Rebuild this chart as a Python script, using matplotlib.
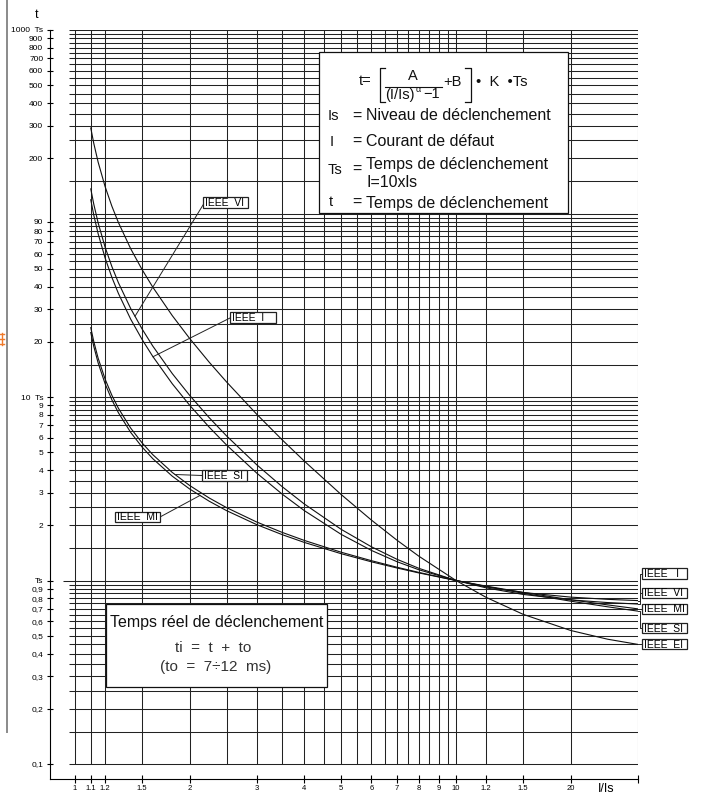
import numpy as np
import matplotlib
matplotlib.use('Agg')
import matplotlib.pyplot as plt
from matplotlib.patches import Rectangle
from matplotlib.ticker import NullLocator

plt.rcParams['font.family'] = ['Liberation Sans', 'DejaVu Sans']

# ---------------- data ----------------
multiples = [1.1, 1.12, 1.15, 1.2, 1.25, 1.3, 1.4, 1.5, 1.6, 1.8, 2, 2.25, 2.5, 3, 3.5, 4,
             5, 6, 7, 8, 10, 12, 15, 20, 25, 30]
t_ei = [292.5, 241.5, 190.6, 139.8, 109.4, 89.29, 64.28, 49.46, 39.7, 27.77, 20.83, 15.48, 12.07,
        8.049, 5.833, 4.47, 2.936, 2.133, 1.658, 1.354, 1, 0.8093, 0.6542, 0.5341, 0.4787, 0.4486]
t_vi = [136.2, 112.6, 88.95, 65.39, 51.3, 41.95, 30.36, 23.48, 18.95, 13.42, 10.2, 7.717, 6.133,
        4.27, 3.242, 2.61, 1.898, 1.526, 1.305, 1.164, 1, 0.9116, 0.8396, 0.7839, 0.7582, 0.7442]
t_i = [118.8, 98.17, 77.59, 57.07, 44.81, 36.67, 26.56, 20.58, 16.64, 11.81, 9.011, 6.85, 5.47,
       3.847, 2.953, 2.402, 1.782, 1.458, 1.266, 1.143, 1, 0.923, 0.8603, 0.8118, 0.7894, 0.7772]
t_mi = [22.46, 18.9, 15.34, 11.78, 9.636, 8.206, 6.415, 5.336, 4.613, 3.703, 3.152, 2.705, 2.402,
        2.015, 1.777, 1.612, 1.399, 1.264, 1.17, 1.099, 1, 0.932, 0.8613, 0.7856, 0.7363, 0.7007]
t_si = [23.87, 20.08, 16.28, 12.49, 10.2, 8.681, 6.771, 5.621, 4.851, 3.881, 3.293, 2.817, 2.494,
        2.082, 1.828, 1.653, 1.425, 1.282, 1.181, 1.106, 1, 0.9275, 0.8521, 0.7715, 0.7189, 0.681]
curves = {'EI': t_ei, 'VI': t_vi, 'I': t_i, 'MI': t_mi, 'SI': t_si}

grid_x = [1, 1.1, 1.2, 1.5, 2, 2.5, 3, 3.5, 4, 4.5, 5, 5.5, 6, 6.5, 7, 7.5, 8, 8.5, 9, 9.5,
          10, 12, 15, 20, 30]
grid_steps = [1, 1.5, 2, 2.5, 3, 3.5, 4, 4.5, 5, 5.5, 6, 6.5, 7, 7.5, 8, 8.5, 9, 9.5]
grid_decades = [0.1, 1, 10, 100]
grid_y = [d * m for d in grid_decades for m in grid_steps] + [1000]

x_ticks = [1, 1.1, 1.2, 1.5, 2, 3, 4, 5, 6, 7, 8, 9, 10, 12, 15, 20, 30]
x_labels = ['1', '1.1', '1.2', '1.5', '2', '3', '4', '5', '6', '7', '8', '9', '10', '1.2', '1.5', '20', '']
y_ticks = [0.1, 0.2, 0.3, 0.4, 0.5, 0.6, 0.7, 0.8, 0.9, 1, 2, 3, 4, 5, 6, 7, 8, 9, 10,
           20, 30, 40, 50, 60, 70, 80, 90, 200, 300, 400, 500, 600, 700, 800, 900, 1000]
y_labels = ['0,1', '0,2', '0,3', '0,4', '0,5', '0,6', '0,7', '0,8', '0,9', 'Ts', '2', '3', '4', '5',
            '6', '7', '8', '9', '10  Ts', '20', '30', '40', '50', '60', '70', '80', '90', '200', '300',
            '400', '500', '600', '700', '800', '900', '1000  Ts']

# ---------------- layout ----------------
W, H = 701, 796
fig = plt.figure(figsize=(W / 100, H / 100), dpi=100)

X1PX, DEC_X = 75.0, 381.0
Y1PX, DEC_Y = 580.5, 183.5
def px2x(px): return 10 ** ((px - X1PX) / DEC_X)
def py2y(py): return 10 ** ((Y1PX - py) / DEC_Y)

L_PX, R_PX, T_PX, B_PX = 50, X1PX + DEC_X * np.log10(30), 30, 779
ax = fig.add_axes([L_PX / W, 1 - B_PX / H, (R_PX - L_PX) / W, (B_PX - T_PX) / H])
ax.set_xscale('log'); ax.set_yscale('log')
ax.set_xlim(px2x(L_PX), 30)
ax.set_ylim(py2y(B_PX), 1000)

gc = '#222222'
ax.vlines(grid_x, 0.1, 1000, colors=gc, lw=0.75, zorder=1)
ax.hlines([v for v in grid_y if v != 1], px2x(69), 30, colors=gc, lw=0.75, zorder=1)
ax.hlines([1], px2x(63), 30, colors=gc, lw=0.75, zorder=1)

for name, vals in curves.items():
    ax.plot(multiples, vals, color='#111111', lw=0.8, zorder=3)

for s in ('top', 'right'):
    ax.spines[s].set_visible(False)
for s in ('left', 'bottom'):
    ax.spines[s].set_linewidth(0.8)

ax.set_xticks(x_ticks); ax.set_xticklabels(x_labels)
ax.set_yticks(y_ticks); ax.set_yticklabels(y_labels)
ax.xaxis.set_minor_locator(NullLocator()); ax.yaxis.set_minor_locator(NullLocator())
ax.tick_params(axis='x', direction='inout', length=5.3, width=0.8, labelsize=5.5, pad=1.5)
ax.tick_params(axis='y', direction='inout', length=4.8, width=0.8, labelsize=6, pad=2.5)

# ---------------- overlay for annotations (pixel coordinates) ----------------
ov = fig.add_axes([0, 0, 1, 1], zorder=5)
ov.set_xlim(0, W); ov.set_ylim(H, 0); ov.axis('off')
ov.patch.set_alpha(0)

def to_ov(x, y):
    dx, dy = ax.transData.transform((x, y))
    return dx, H - dy

def on_curve(name, x):
    lx = np.log10(multiples); ly = np.log10(curves[name])
    return x, 10 ** np.interp(np.log10(x), lx, ly)

def label_box(x0, y0, x1, y1, text):
    ov.add_patch(Rectangle((x0, y0), x1 - x0, y1 - y0, fc='white', ec='#222222', lw=0.9, zorder=6))
    ov.text(x0 + 2, (y0 + y1) / 2 + 0.5, text, fontsize=7.5, ha='left', va='center', zorder=7)

for name, box, start, cx in [
        ('VI', (203, 197, 248, 208), (203, 205), 135),
        ('I', (230, 312, 276, 323), (230, 318), 153),
        ('SI', (202, 470, 247, 481), (202, 475.5), 175),
        ('MI', (115, 512, 160, 522), (160, 517), 200)]:
    ex, ey = to_ov(*on_curve(name, px2x(cx)))
    ov.plot([start[0], ex], [start[1], ey], color='#222222', lw=0.7, zorder=6)
    label_box(*box, 'IEEE  ' + name)

for name, (y0, y1) in [('I', (568, 579)), ('VI', (588, 598)), ('MI', (604, 614)),
                       ('SI', (623, 633)), ('EI', (639, 649))]:
    ex, ey = to_ov(30, curves[name][-1])
    yc = (y0 + y1) / 2
    ov.plot([ex, 639.5, 639.5, 642], [ey, ey, yc, yc], color='#222222', lw=0.7, zorder=6)
    label_box(642, y0, 687, y1, 'IEEE  ' + name if name != 'I' else 'IEEE   I')

# formula box
ink = '#111111'
ov.add_patch(Rectangle((319, 52), 568 - 319, 213 - 52, fc='white', ec=ink, lw=0.9, zorder=6))
def T(x, y, s, fs, ha='left', **kw):
    ov.text(x, y, s, fontsize=fs, ha=ha, va='baseline', zorder=7, color=ink, **kw)
T(359, 85, 't=', 10.5)
ov.plot([385, 380, 380, 385], [68, 68, 102, 102], color=ink, lw=0.9, zorder=7)
ov.plot([465, 470.5, 470.5, 465], [68, 68, 102, 102], color=ink, lw=0.9, zorder=7)
T(413, 79.5, 'A', 10.5, ha='center')
ov.plot([385, 442], [87, 87], color=ink, lw=0.8, zorder=7)
T(385, 98.5, '(I/Is)', 10.5)
T(416, 92, 'α', 6.5)
T(423, 98.5, '−1', 10.5)
T(443, 85.5, '+B', 10.5)
T(476, 85.5, '•  K  •Ts', 10.5)

fs_t = 11.5
T(328, 120.3, 'Is', 10.5); T(352, 120.5, '=', fs_t); T(366, 120.5, 'Niveau de déclenchement', fs_t)
T(330, 145.5, 'I', 10.5); T(352, 145.5, '=', fs_t); T(366, 145.5, 'Courant de défaut', fs_t)
T(328, 174, 'Ts', 10.5); T(352, 173.5, '=', fs_t); T(366, 169.5, 'Temps de déclenchement', fs_t)
T(366, 187, 'I=10xls', fs_t)
T(329, 205.5, 't', 10.5); T(352, 207, '=', fs_t); T(366, 208, 'Temps de déclenchement', fs_t)

# real-time box
ov.add_patch(Rectangle((106, 604), 327 - 106, 687 - 604, fc='white', ec=ink, lw=0.9, zorder=6))
ov.text(216.5, 622, 'Temps réel de déclenchement', fontsize=fs_t, ha='center', va='center', zorder=7, color=ink)
ov.text(213, 648, 'ti  =  t  +  to', fontsize=11, ha='center', va='center', zorder=7, color='#333333')
ov.text(216, 667, '(to  =  7÷12  ms)', fontsize=11, ha='center', va='center', zorder=7, color='#333333')

ov.text(37, 15, 't', fontsize=9, ha='center', va='center')
ov.text(598, 789, 'I/Is', fontsize=9, ha='left', va='center')
ov.plot([7, 7], [0, 732], color='#8a8a8a', lw=1.4)
orange = '#f07a2a'
ov.plot([1.5, 1.5], [333, 345], color=orange, lw=1.0)
ov.plot([0, 3.5], [334, 334], color=orange, lw=1.0)
ov.plot([0, 3.5], [339, 339], color=orange, lw=1.0)
ov.plot([0, 3.5], [344, 344], color=orange, lw=1.0)

fig.savefig('out.png', dpi=100)
